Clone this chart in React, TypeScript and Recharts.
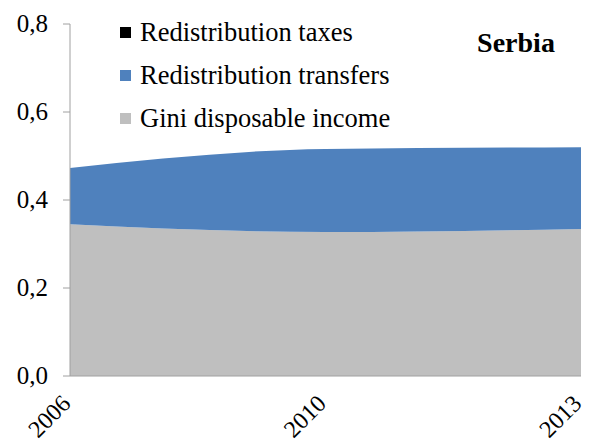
import React from 'react';
import { AreaChart, Area, XAxis, YAxis } from 'recharts';

const years = ['2006', '2010', '2013'];
const giniDisposable = [0.345, 0.327, 0.334];
const redistTransfers = [0.128, 0.189, 0.186];
const redistTaxes = [0, 0, 0];
const yTicks = [0, 0.2, 0.4, 0.6, 0.8];
const legendLabels = ['Redistribution taxes', 'Redistribution transfers', 'Gini disposable income'];
const legendColors = ['#000000', '#4F81BD', '#BFBFBF'];
const title = 'Serbia';

const data = years.map((y, i) => ({
  year: y,
  gini: giniDisposable[i],
  transfers: redistTransfers[i],
  taxes: redistTaxes[i],
}));

const FONT = 'Liberation Serif, DejaVu Serif, serif';

const XTick = (props: any) => {
  const { x, y, payload } = props;
  return (
    <g transform={`translate(${x + 2},${y + 21})`}>
      <text transform="rotate(-45)" textAnchor="end" fontFamily={FONT} fontSize={24} style={{ fontFamily: FONT }} fill="#000">
        {payload.value}
      </text>
    </g>
  );
};

const YTick = (props: any) => {
  const { x, y, payload } = props;
  return (
    <text x={x} y={y} dy={8} textAnchor="end" fontFamily={FONT} fontSize={25} style={{ fontFamily: FONT }} fill="#000">
      {Number(payload.value).toFixed(1).replace('.', ',')}
    </text>
  );
};

export default function App() {
  return (
    <div style={{ position: 'absolute', left: 0, top: 0, fontFamily: FONT }}>
      <AreaChart width={603} height={444} data={data} margin={{ top: 24, right: 22, bottom: 0, left: 0 }} style={{ fontFamily: FONT }}>
        <XAxis
          dataKey="year"
          height={68}
          tickLine={false}
          axisLine={{ stroke: '#A0A0A0' }}
          tick={<XTick />}
          interval={0}
        />
        <YAxis
          width={70}
          domain={[0, 0.8]}
          ticks={yTicks}
          axisLine={{ stroke: '#A0A0A0' }}
          tickLine={{ stroke: '#A0A0A0' }}
          tickSize={7}
          tickMargin={15}
          tick={<YTick />}
        />
        <Area type="monotone" dataKey="gini" stackId="1" stroke="none" fill="#BFBFBF" fillOpacity={1} isAnimationActive={false} />
        <Area type="monotone" dataKey="transfers" stackId="1" stroke="none" fill="#4F81BD" fillOpacity={1} isAnimationActive={false} />
        <Area type="monotone" dataKey="taxes" stackId="1" stroke="none" fill="#000000" fillOpacity={1} isAnimationActive={false} />
        {legendLabels.map((label, i) => (
          <g key={label}>
            <rect x={120} y={27 + i * 43} width={11} height={11} fill={legendColors[i]} />
            <text x={140} y={41 + i * 43} fontFamily={FONT} fontSize={26.5} style={{ fontFamily: FONT }} fill="#000">
              {label}
            </text>
          </g>
        ))}
        <text x={516} y={52} textAnchor="middle" fontFamily={FONT} fontSize={28} fontWeight="bold" style={{ fontFamily: FONT }} fill="#000">
          {title}
        </text>
      </AreaChart>
    </div>
  );
}
